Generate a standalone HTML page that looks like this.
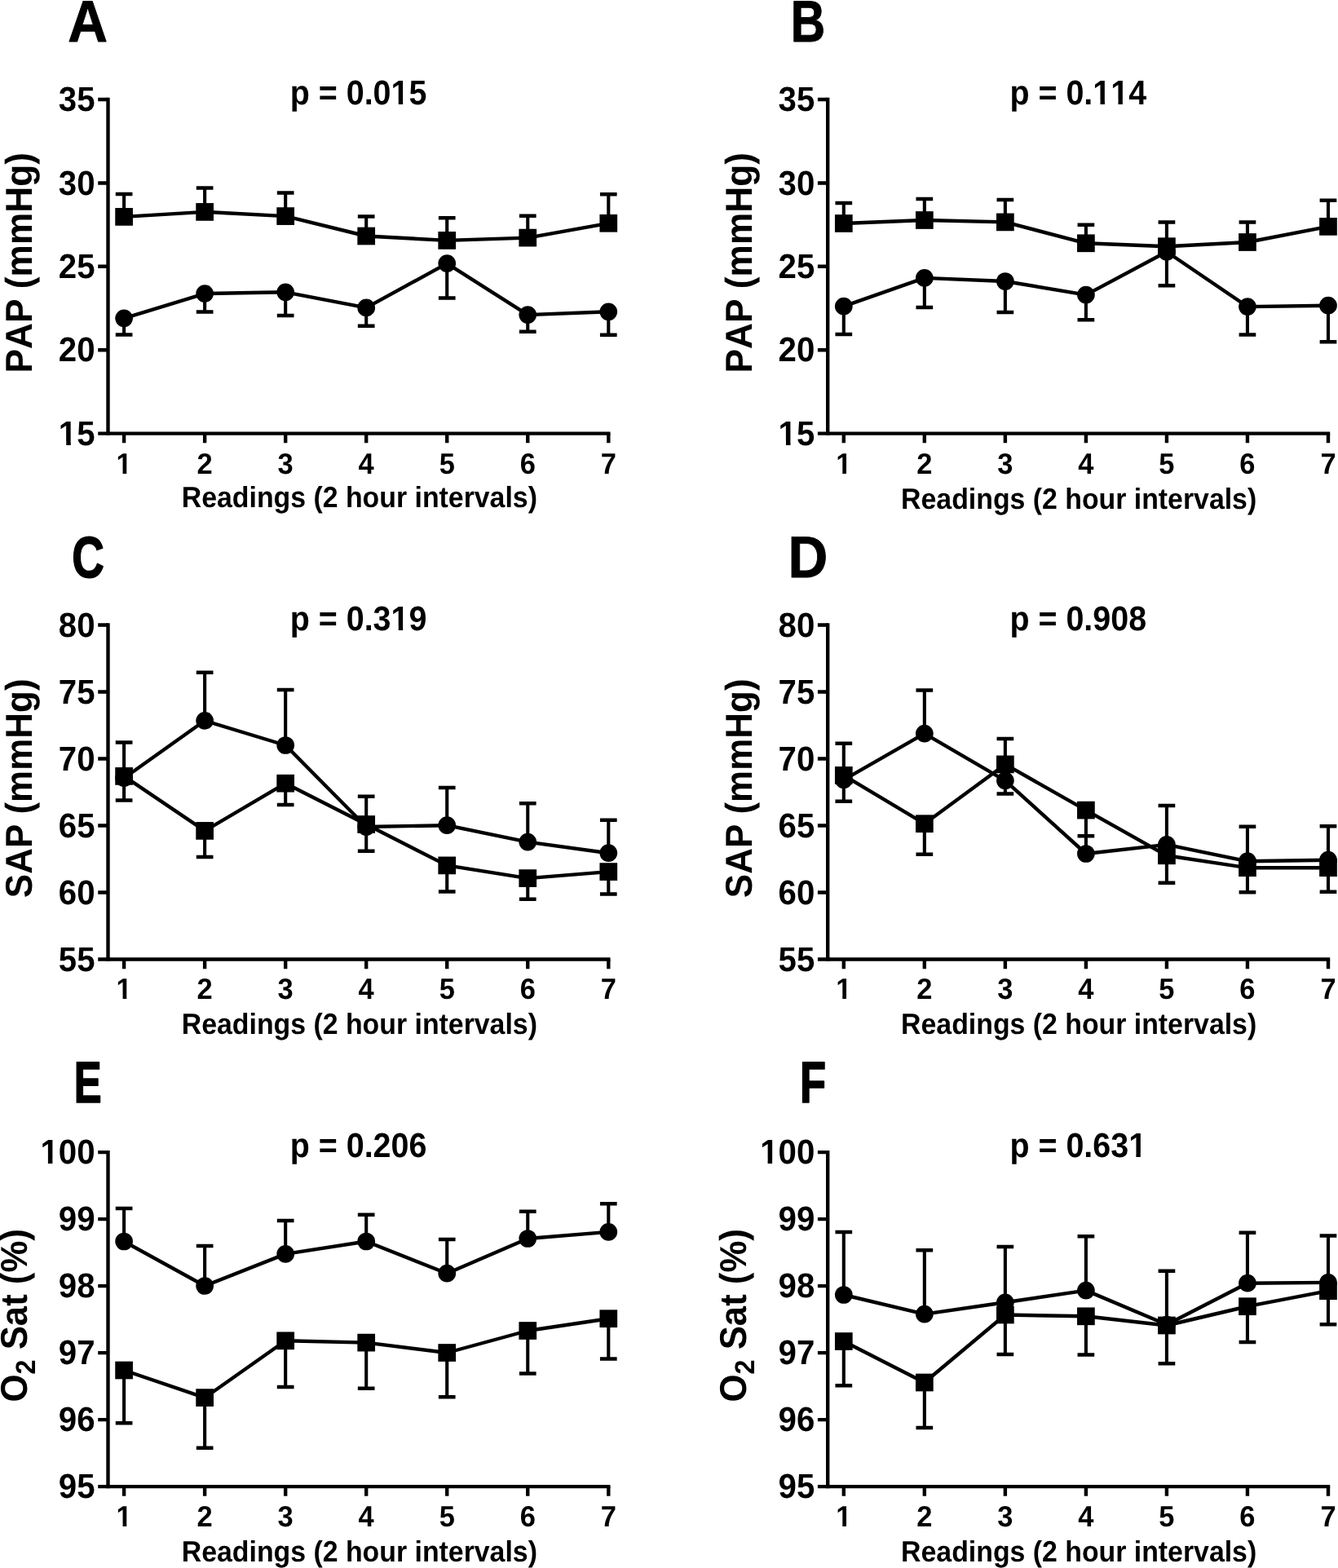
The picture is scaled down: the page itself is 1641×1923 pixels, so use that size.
<!DOCTYPE html>
<html lang="en"><head><meta charset="utf-8"><title>Figure</title>
<style>
html,body{margin:0;padding:0;background:#fff;}
body{width:1641px;height:1923px;overflow:hidden;}
svg{display:block;}
text{font-family:"Liberation Sans",Arial,Helvetica,sans-serif;font-weight:bold;fill:#000;font-kerning:none;text-rendering:geometricPrecision;}
.m{fill:#fff;}
.ax{stroke:#000;fill:none;stroke-linecap:butt;}
.ln{stroke:#000;fill:none;stroke-linejoin:round;}
</style></head><body>
<svg width="1641" height="1923" viewBox="0 0 1641 1923">
<rect width="1641" height="1923" fill="#fff"/>
<g id="panel-A">
<path class="ax" stroke-width="4.4" d="M132.5 119.85V533.8"/>
<path class="ax" stroke-width="4.4" d="M120.2 531.6H748.48"/>
<path class="ax" stroke-width="4.4" d="M120.2 122.05H132.5M120.2 224.44H132.5M120.2 326.82H132.5M120.2 429.21H132.5M152.1 531.6V543.3M251.13 531.6V543.3M350.16 531.6V543.3M449.19 531.6V543.3M548.22 531.6V543.3M647.25 531.6V543.3M746.28 531.6V543.3"/>
<g transform="translate(71.87 136) scale(0.9530 1)"><text font-size="42.2">35</text></g>
<g transform="translate(71.87 239) scale(0.9530 1)"><text font-size="42.2">30</text></g>
<g transform="translate(71.87 341) scale(0.9530 1)"><text font-size="42.2">25</text></g>
<g transform="translate(71.87 443) scale(0.9530 1)"><text font-size="42.2">20</text></g>
<g transform="translate(71.87 546) scale(0.9530 1)"><text font-size="42.2">15</text><rect class="m" x="-0.52" y="-5" width="10.36" height="6"/><rect class="m" x="15.64" y="-5" width="8.14" height="6"/></g>
<g transform="translate(142.52 581) scale(0.9600 1)"><text font-size="35.9">1</text><rect class="m" x="-0.44" y="-4" width="8.82" height="5"/><rect class="m" x="13.3" y="-4" width="6.92" height="5"/></g>
<g transform="translate(241.55 581) scale(0.9600 1)"><text font-size="35.9">2</text></g>
<g transform="translate(340.58 581) scale(0.9600 1)"><text font-size="35.9">3</text></g>
<g transform="translate(439.61 581) scale(0.9600 1)"><text font-size="35.9">4</text></g>
<g transform="translate(538.64 581) scale(0.9600 1)"><text font-size="35.9">5</text></g>
<g transform="translate(637.67 581) scale(0.9600 1)"><text font-size="35.9">6</text></g>
<g transform="translate(736.7 581) scale(0.9600 1)"><text font-size="35.9">7</text></g>
<g transform="translate(222.79 622) scale(0.9397 1)"><text font-size="36">Readings (2 hour intervals)</text></g>
<g transform="translate(38.9 457.46) rotate(-90) scale(0.9621 1)"><text font-size="46">PAP (mmHg)</text></g>
<g transform="translate(355.7 128) scale(0.9366 1)"><text font-size="42.1">p = 0.015</text><rect class="m" x="131.71" y="-5" width="10.34" height="6"/><rect class="m" x="147.82" y="-5" width="8.12" height="6"/></g>
<text class="pl" stroke="#000" stroke-width="0.9" stroke-linejoin="round" transform="translate(83.22 50.74) scale(0.9388 1)" font-size="71.92">A</text>
<path class="ax" stroke-width="4.1" d="M152.1 265.9V238.2M251.13 259.9V230.8M350.16 265.1V236.8M449.19 289.5V265.8M548.22 294.9V267.4M647.25 291.6V265M746.28 273.8V238.6M152.1 390.3V410.8M251.13 360.1V382.7M350.16 358.3V387.2M449.19 377.4V400.1M548.22 323.1V365.7M647.25 386.1V407.1M746.28 382.3V411"/>
<path class="ax" stroke-width="4.5" d="M141.75 237.95H162.45M240.78 230.55H261.48M339.81 236.55H360.51M438.84 265.55H459.54M537.87 267.15H558.57M636.9 264.75H657.6M735.93 238.35H756.63M141.75 410.55H162.45M240.78 382.45H261.48M339.81 386.95H360.51M438.84 399.85H459.54M537.87 365.45H558.57M636.9 406.85H657.6M735.93 410.75H756.63"/>
<polyline class="ln" stroke-width="4.4" points="152.1,265.9 251.13,259.9 350.16,265.1 449.19,289.5 548.22,294.9 647.25,291.6 746.28,273.8"/>
<polyline class="ln" stroke-width="4.4" points="152.1,390.3 251.13,360.1 350.16,358.3 449.19,377.4 548.22,323.1 647.25,386.1 746.28,382.3"/>
<circle cx="152.1" cy="390.3" r="10.85"/>
<circle cx="251.13" cy="360.1" r="10.85"/>
<circle cx="350.16" cy="358.3" r="10.85"/>
<circle cx="449.19" cy="377.4" r="10.85"/>
<circle cx="548.22" cy="323.1" r="10.85"/>
<circle cx="647.25" cy="386.1" r="10.85"/>
<circle cx="746.28" cy="382.3" r="10.85"/>
<rect x="141.25" y="255.05" width="21.7" height="21.7"/>
<rect x="240.28" y="249.05" width="21.7" height="21.7"/>
<rect x="339.31" y="254.25" width="21.7" height="21.7"/>
<rect x="438.34" y="278.65" width="21.7" height="21.7"/>
<rect x="537.37" y="284.05" width="21.7" height="21.7"/>
<rect x="636.4" y="280.75" width="21.7" height="21.7"/>
<rect x="735.43" y="262.95" width="21.7" height="21.7"/>
</g>
<g id="panel-B">
<path class="ax" stroke-width="4.4" d="M1015.2 119.85V533.8"/>
<path class="ax" stroke-width="4.4" d="M1002.9 531.6H1631.18"/>
<path class="ax" stroke-width="4.4" d="M1002.9 122.05H1015.2M1002.9 224.44H1015.2M1002.9 326.82H1015.2M1002.9 429.21H1015.2M1034.8 531.6V543.3M1133.83 531.6V543.3M1232.86 531.6V543.3M1331.89 531.6V543.3M1430.92 531.6V543.3M1529.95 531.6V543.3M1628.98 531.6V543.3"/>
<g transform="translate(954.57 136) scale(0.9530 1)"><text font-size="42.2">35</text></g>
<g transform="translate(954.57 239) scale(0.9530 1)"><text font-size="42.2">30</text></g>
<g transform="translate(954.57 341) scale(0.9530 1)"><text font-size="42.2">25</text></g>
<g transform="translate(954.57 443) scale(0.9530 1)"><text font-size="42.2">20</text></g>
<g transform="translate(954.57 546) scale(0.9530 1)"><text font-size="42.2">15</text><rect class="m" x="-0.52" y="-5" width="10.36" height="6"/><rect class="m" x="15.64" y="-5" width="8.14" height="6"/></g>
<g transform="translate(1025.22 581) scale(0.9600 1)"><text font-size="35.9">1</text><rect class="m" x="-0.44" y="-4" width="8.82" height="5"/><rect class="m" x="13.3" y="-4" width="6.92" height="5"/></g>
<g transform="translate(1124.25 581) scale(0.9600 1)"><text font-size="35.9">2</text></g>
<g transform="translate(1223.28 581) scale(0.9600 1)"><text font-size="35.9">3</text></g>
<g transform="translate(1322.31 581) scale(0.9600 1)"><text font-size="35.9">4</text></g>
<g transform="translate(1421.34 581) scale(0.9600 1)"><text font-size="35.9">5</text></g>
<g transform="translate(1520.37 581) scale(0.9600 1)"><text font-size="35.9">6</text></g>
<g transform="translate(1619.4 581) scale(0.9600 1)"><text font-size="35.9">7</text></g>
<g transform="translate(1105.09 624) scale(0.9397 1)"><text font-size="36">Readings (2 hour intervals)</text></g>
<g transform="translate(921.6 457.46) rotate(-90) scale(0.9621 1)"><text font-size="46">PAP (mmHg)</text></g>
<g transform="translate(1238.4 128) scale(0.9366 1)"><text font-size="42.1">p = 0.114</text><rect class="m" x="108.29" y="-5" width="10.34" height="6"/><rect class="m" x="124.41" y="-5" width="8.12" height="6"/><rect class="m" x="131.71" y="-5" width="10.34" height="6"/><rect class="m" x="147.82" y="-5" width="8.12" height="6"/></g>
<text class="pl" stroke="#000" stroke-width="0.9" stroke-linejoin="round" transform="translate(969.76 50.74) scale(0.8185 1)" font-size="71.92">B</text>
<path class="ax" stroke-width="4.1" d="M1034.8 274V249.2M1133.83 270V244.2M1232.86 272.4V245.3M1331.89 298.3V276.1M1430.92 302.2V272.8M1529.95 297V272.8M1628.98 277.9V245.9M1034.8 375.7V410.2M1133.83 340.9V377.3M1232.86 345V383.3M1331.89 361.6V392.6M1430.92 308.8V350.5M1529.95 376.1V410.8M1628.98 374.7V419.5"/>
<path class="ax" stroke-width="4.5" d="M1024.45 248.95H1045.15M1123.48 243.95H1144.18M1222.51 245.05H1243.21M1321.54 275.85H1342.24M1420.57 272.55H1441.27M1519.6 272.55H1540.3M1618.63 245.65H1639.33M1024.45 409.95H1045.15M1123.48 377.05H1144.18M1222.51 383.05H1243.21M1321.54 392.35H1342.24M1420.57 350.25H1441.27M1519.6 410.55H1540.3M1618.63 419.25H1639.33"/>
<polyline class="ln" stroke-width="4.4" points="1034.8,274 1133.83,270 1232.86,272.4 1331.89,298.3 1430.92,302.2 1529.95,297 1628.98,277.9"/>
<polyline class="ln" stroke-width="4.4" points="1034.8,375.7 1133.83,340.9 1232.86,345 1331.89,361.6 1430.92,308.8 1529.95,376.1 1628.98,374.7"/>
<circle cx="1034.8" cy="375.7" r="10.85"/>
<circle cx="1133.83" cy="340.9" r="10.85"/>
<circle cx="1232.86" cy="345" r="10.85"/>
<circle cx="1331.89" cy="361.6" r="10.85"/>
<circle cx="1430.92" cy="308.8" r="10.85"/>
<circle cx="1529.95" cy="376.1" r="10.85"/>
<circle cx="1628.98" cy="374.7" r="10.85"/>
<rect x="1023.95" y="263.15" width="21.7" height="21.7"/>
<rect x="1122.98" y="259.15" width="21.7" height="21.7"/>
<rect x="1222.01" y="261.55" width="21.7" height="21.7"/>
<rect x="1321.04" y="287.45" width="21.7" height="21.7"/>
<rect x="1420.07" y="291.35" width="21.7" height="21.7"/>
<rect x="1519.1" y="286.15" width="21.7" height="21.7"/>
<rect x="1618.13" y="267.05" width="21.7" height="21.7"/>
</g>
<g id="panel-C">
<path class="ax" stroke-width="4.4" d="M132.5 764.25V1178.65"/>
<path class="ax" stroke-width="4.4" d="M120.2 1176.45H748.48"/>
<path class="ax" stroke-width="4.4" d="M120.2 766.45H132.5M120.2 848.45H132.5M120.2 930.45H132.5M120.2 1012.45H132.5M120.2 1094.45H132.5M152.1 1176.45V1188.15M251.13 1176.45V1188.15M350.16 1176.45V1188.15M449.19 1176.45V1188.15M548.22 1176.45V1188.15M647.25 1176.45V1188.15M746.28 1176.45V1188.15"/>
<g transform="translate(71.87 781) scale(0.9530 1)"><text font-size="42.2">80</text></g>
<g transform="translate(71.87 863) scale(0.9530 1)"><text font-size="42.2">75</text></g>
<g transform="translate(71.87 945) scale(0.9530 1)"><text font-size="42.2">70</text></g>
<g transform="translate(71.87 1027) scale(0.9530 1)"><text font-size="42.2">65</text></g>
<g transform="translate(71.87 1109) scale(0.9530 1)"><text font-size="42.2">60</text></g>
<g transform="translate(71.87 1191) scale(0.9530 1)"><text font-size="42.2">55</text></g>
<g transform="translate(142.52 1225) scale(0.9600 1)"><text font-size="35.9">1</text><rect class="m" x="-0.44" y="-4" width="8.82" height="5"/><rect class="m" x="13.3" y="-4" width="6.92" height="5"/></g>
<g transform="translate(241.55 1225) scale(0.9600 1)"><text font-size="35.9">2</text></g>
<g transform="translate(340.58 1225) scale(0.9600 1)"><text font-size="35.9">3</text></g>
<g transform="translate(439.61 1225) scale(0.9600 1)"><text font-size="35.9">4</text></g>
<g transform="translate(538.64 1225) scale(0.9600 1)"><text font-size="35.9">5</text></g>
<g transform="translate(637.67 1225) scale(0.9600 1)"><text font-size="35.9">6</text></g>
<g transform="translate(736.7 1225) scale(0.9600 1)"><text font-size="35.9">7</text></g>
<g transform="translate(222.79 1268) scale(0.9397 1)"><text font-size="36">Readings (2 hour intervals)</text></g>
<g transform="translate(38.9 1101.17) rotate(-90) scale(0.9560 1)"><text font-size="46">SAP (mmHg)</text></g>
<g transform="translate(355.7 773) scale(0.9366 1)"><text font-size="42.1">p = 0.319</text><rect class="m" x="131.71" y="-5" width="10.34" height="6"/><rect class="m" x="147.82" y="-5" width="8.12" height="6"/></g>
<text class="pl" stroke="#000" stroke-width="1.6" stroke-linejoin="round" transform="translate(88.3 707.8) scale(0.7695 1)" font-size="71.16">C</text>
<path class="ax" stroke-width="4.1" d="M152.1 951.9V981.7M251.13 1018.9V1051.3M350.16 960.7V987.3M449.19 1011V1044M548.22 1061.4V1093.8M647.25 1077.1V1103.1M746.28 1069.1V1096.7M152.1 954.2V910.8M251.13 883.8V825M350.16 914V846.2M449.19 1014V976.9M548.22 1012.2V966.3M647.25 1032.6V985.4M746.28 1046.2V1005.9"/>
<path class="ax" stroke-width="4.5" d="M141.75 981.45H162.45M240.78 1051.05H261.48M339.81 987.05H360.51M438.84 1043.75H459.54M537.87 1093.55H558.57M636.9 1102.85H657.6M735.93 1096.45H756.63M141.75 910.55H162.45M240.78 824.75H261.48M339.81 845.95H360.51M438.84 976.65H459.54M537.87 966.05H558.57M636.9 985.15H657.6M735.93 1005.65H756.63"/>
<polyline class="ln" stroke-width="4.4" points="152.1,951.9 251.13,1018.9 350.16,960.7 449.19,1011 548.22,1061.4 647.25,1077.1 746.28,1069.1"/>
<polyline class="ln" stroke-width="4.4" points="152.1,954.2 251.13,883.8 350.16,914 449.19,1014 548.22,1012.2 647.25,1032.6 746.28,1046.2"/>
<circle cx="152.1" cy="954.2" r="10.85"/>
<circle cx="251.13" cy="883.8" r="10.85"/>
<circle cx="350.16" cy="914" r="10.85"/>
<circle cx="449.19" cy="1014" r="10.85"/>
<circle cx="548.22" cy="1012.2" r="10.85"/>
<circle cx="647.25" cy="1032.6" r="10.85"/>
<circle cx="746.28" cy="1046.2" r="10.85"/>
<rect x="141.25" y="941.05" width="21.7" height="21.7"/>
<rect x="240.28" y="1008.05" width="21.7" height="21.7"/>
<rect x="339.31" y="949.85" width="21.7" height="21.7"/>
<rect x="438.34" y="1000.15" width="21.7" height="21.7"/>
<rect x="537.37" y="1050.55" width="21.7" height="21.7"/>
<rect x="636.4" y="1066.25" width="21.7" height="21.7"/>
<rect x="735.43" y="1058.25" width="21.7" height="21.7"/>
</g>
<g id="panel-D">
<path class="ax" stroke-width="4.4" d="M1015.2 764.25V1178.65"/>
<path class="ax" stroke-width="4.4" d="M1002.9 1176.45H1631.18"/>
<path class="ax" stroke-width="4.4" d="M1002.9 766.45H1015.2M1002.9 848.45H1015.2M1002.9 930.45H1015.2M1002.9 1012.45H1015.2M1002.9 1094.45H1015.2M1034.8 1176.45V1188.15M1133.83 1176.45V1188.15M1232.86 1176.45V1188.15M1331.89 1176.45V1188.15M1430.92 1176.45V1188.15M1529.95 1176.45V1188.15M1628.98 1176.45V1188.15"/>
<g transform="translate(954.57 781) scale(0.9530 1)"><text font-size="42.2">80</text></g>
<g transform="translate(954.57 863) scale(0.9530 1)"><text font-size="42.2">75</text></g>
<g transform="translate(954.57 945) scale(0.9530 1)"><text font-size="42.2">70</text></g>
<g transform="translate(954.57 1027) scale(0.9530 1)"><text font-size="42.2">65</text></g>
<g transform="translate(954.57 1109) scale(0.9530 1)"><text font-size="42.2">60</text></g>
<g transform="translate(954.57 1191) scale(0.9530 1)"><text font-size="42.2">55</text></g>
<g transform="translate(1025.22 1225) scale(0.9600 1)"><text font-size="35.9">1</text><rect class="m" x="-0.44" y="-4" width="8.82" height="5"/><rect class="m" x="13.3" y="-4" width="6.92" height="5"/></g>
<g transform="translate(1124.25 1225) scale(0.9600 1)"><text font-size="35.9">2</text></g>
<g transform="translate(1223.28 1225) scale(0.9600 1)"><text font-size="35.9">3</text></g>
<g transform="translate(1322.31 1225) scale(0.9600 1)"><text font-size="35.9">4</text></g>
<g transform="translate(1421.34 1225) scale(0.9600 1)"><text font-size="35.9">5</text></g>
<g transform="translate(1520.37 1225) scale(0.9600 1)"><text font-size="35.9">6</text></g>
<g transform="translate(1619.4 1225) scale(0.9600 1)"><text font-size="35.9">7</text></g>
<g transform="translate(1105.09 1268) scale(0.9397 1)"><text font-size="36">Readings (2 hour intervals)</text></g>
<g transform="translate(921.6 1101.17) rotate(-90) scale(0.9560 1)"><text font-size="46">SAP (mmHg)</text></g>
<g transform="translate(1238.4 773) scale(0.9366 1)"><text font-size="42.1">p = 0.908</text></g>
<text class="pl" stroke="#000" stroke-width="0.9" stroke-linejoin="round" transform="translate(966.38 708.24) scale(0.9348 1)" font-size="72.21">D</text>
<path class="ax" stroke-width="4.1" d="M1034.8 950.9V982.9M1133.83 1010.2V1048M1232.86 937.4V906.2M1331.89 993.6V1025.4M1430.92 1049.3V1083M1529.95 1064.2V1094.6M1628.98 1064.2V1094M1034.8 956.3V912.1M1133.83 899.7V846.8M1232.86 957.3V973.8M1331.89 1047V1025.4M1430.92 1035.9V988.3M1529.95 1056.2V1014M1628.98 1054.7V1013.4"/>
<path class="ax" stroke-width="4.5" d="M1024.45 982.65H1045.15M1123.48 1047.75H1144.18M1222.51 905.95H1243.21M1321.54 1025.15H1342.24M1420.57 1082.75H1441.27M1519.6 1094.35H1540.3M1618.63 1093.75H1639.33M1024.45 911.85H1045.15M1123.48 846.55H1144.18M1222.51 973.55H1243.21M1321.54 1025.15H1342.24M1420.57 988.05H1441.27M1519.6 1013.75H1540.3M1618.63 1013.15H1639.33"/>
<polyline class="ln" stroke-width="4.4" points="1034.8,950.9 1133.83,1010.2 1232.86,937.4 1331.89,993.6 1430.92,1049.3 1529.95,1064.2 1628.98,1064.2"/>
<polyline class="ln" stroke-width="4.4" points="1034.8,956.3 1133.83,899.7 1232.86,957.3 1331.89,1047 1430.92,1035.9 1529.95,1056.2 1628.98,1054.7"/>
<circle cx="1034.8" cy="956.3" r="10.85"/>
<circle cx="1133.83" cy="899.7" r="10.85"/>
<circle cx="1232.86" cy="957.3" r="10.85"/>
<circle cx="1331.89" cy="1047" r="10.85"/>
<circle cx="1430.92" cy="1035.9" r="10.85"/>
<circle cx="1529.95" cy="1056.2" r="10.85"/>
<circle cx="1628.98" cy="1054.7" r="10.85"/>
<rect x="1023.95" y="940.05" width="21.7" height="21.7"/>
<rect x="1122.98" y="999.35" width="21.7" height="21.7"/>
<rect x="1222.01" y="926.55" width="21.7" height="21.7"/>
<rect x="1321.04" y="982.75" width="21.7" height="21.7"/>
<rect x="1420.07" y="1038.45" width="21.7" height="21.7"/>
<rect x="1519.1" y="1053.35" width="21.7" height="21.7"/>
<rect x="1618.13" y="1053.35" width="21.7" height="21.7"/>
</g>
<g id="panel-E">
<path class="ax" stroke-width="4.4" d="M132.5 1410.95V1825.3"/>
<path class="ax" stroke-width="4.4" d="M120.2 1823.1H748.48"/>
<path class="ax" stroke-width="4.4" d="M120.2 1413.15H132.5M120.2 1495.14H132.5M120.2 1577.13H132.5M120.2 1659.12H132.5M120.2 1741.11H132.5M152.1 1823.1V1834.8M251.13 1823.1V1834.8M350.16 1823.1V1834.8M449.19 1823.1V1834.8M548.22 1823.1V1834.8M647.25 1823.1V1834.8M746.28 1823.1V1834.8"/>
<g transform="translate(49.5 1427) scale(0.9530 1)"><text font-size="42.2">100</text><rect class="m" x="-0.52" y="-5" width="10.36" height="6"/><rect class="m" x="15.64" y="-5" width="8.14" height="6"/></g>
<g transform="translate(71.87 1509) scale(0.9530 1)"><text font-size="42.2">99</text></g>
<g transform="translate(71.87 1591) scale(0.9530 1)"><text font-size="42.2">98</text></g>
<g transform="translate(71.87 1673) scale(0.9530 1)"><text font-size="42.2">97</text></g>
<g transform="translate(71.87 1755) scale(0.9530 1)"><text font-size="42.2">96</text></g>
<g transform="translate(71.87 1837) scale(0.9530 1)"><text font-size="42.2">95</text></g>
<g transform="translate(142.52 1872) scale(0.9600 1)"><text font-size="35.9">1</text><rect class="m" x="-0.44" y="-4" width="8.82" height="5"/><rect class="m" x="13.3" y="-4" width="6.92" height="5"/></g>
<g transform="translate(241.55 1872) scale(0.9600 1)"><text font-size="35.9">2</text></g>
<g transform="translate(340.58 1872) scale(0.9600 1)"><text font-size="35.9">3</text></g>
<g transform="translate(439.61 1872) scale(0.9600 1)"><text font-size="35.9">4</text></g>
<g transform="translate(538.64 1872) scale(0.9600 1)"><text font-size="35.9">5</text></g>
<g transform="translate(637.67 1872) scale(0.9600 1)"><text font-size="35.9">6</text></g>
<g transform="translate(736.7 1872) scale(0.9600 1)"><text font-size="35.9">7</text></g>
<g transform="translate(222.79 1915) scale(0.9397 1)"><text font-size="36">Readings (2 hour intervals)</text></g>
<g transform="translate(33.3 1719.39) rotate(-90) scale(0.9498 1)"><text font-size="46">O<tspan font-size="34" dy="10">2</tspan><tspan dy="-10"> Sat (%)</tspan></text></g>
<g transform="translate(355.7 1419) scale(0.9366 1)"><text font-size="42.1">p = 0.206</text></g>
<text class="pl" stroke="#000" stroke-width="1.7" stroke-linejoin="round" transform="translate(90.8 1351.74) scale(0.7121 1)" font-size="71.34">E</text>
<path class="ax" stroke-width="4.1" d="M152.1 1680.5V1745.4M251.13 1714.1V1775.9M350.16 1644.3V1701.2M449.19 1646.6V1703.1M548.22 1659V1713.5M647.25 1632V1684.7M746.28 1617.2V1666.8M152.1 1522.5V1482.2M251.13 1577V1528.2M350.16 1537.9V1497.3M449.19 1522.5V1489.9M548.22 1561.7V1520.2M647.25 1519V1486M746.28 1510.9V1476.4"/>
<path class="ax" stroke-width="4.5" d="M141.75 1745.15H162.45M240.78 1775.65H261.48M339.81 1700.95H360.51M438.84 1702.85H459.54M537.87 1713.25H558.57M636.9 1684.45H657.6M735.93 1666.55H756.63M141.75 1481.95H162.45M240.78 1527.95H261.48M339.81 1497.05H360.51M438.84 1489.65H459.54M537.87 1519.95H558.57M636.9 1485.75H657.6M735.93 1476.15H756.63"/>
<polyline class="ln" stroke-width="4.4" points="152.1,1680.5 251.13,1714.1 350.16,1644.3 449.19,1646.6 548.22,1659 647.25,1632 746.28,1617.2"/>
<polyline class="ln" stroke-width="4.4" points="152.1,1522.5 251.13,1577 350.16,1537.9 449.19,1522.5 548.22,1561.7 647.25,1519 746.28,1510.9"/>
<circle cx="152.1" cy="1522.5" r="10.85"/>
<circle cx="251.13" cy="1577" r="10.85"/>
<circle cx="350.16" cy="1537.9" r="10.85"/>
<circle cx="449.19" cy="1522.5" r="10.85"/>
<circle cx="548.22" cy="1561.7" r="10.85"/>
<circle cx="647.25" cy="1519" r="10.85"/>
<circle cx="746.28" cy="1510.9" r="10.85"/>
<rect x="141.25" y="1669.65" width="21.7" height="21.7"/>
<rect x="240.28" y="1703.25" width="21.7" height="21.7"/>
<rect x="339.31" y="1633.45" width="21.7" height="21.7"/>
<rect x="438.34" y="1635.75" width="21.7" height="21.7"/>
<rect x="537.37" y="1648.15" width="21.7" height="21.7"/>
<rect x="636.4" y="1621.15" width="21.7" height="21.7"/>
<rect x="735.43" y="1606.35" width="21.7" height="21.7"/>
</g>
<g id="panel-F">
<path class="ax" stroke-width="4.4" d="M1015.2 1410.95V1825.3"/>
<path class="ax" stroke-width="4.4" d="M1002.9 1823.1H1631.18"/>
<path class="ax" stroke-width="4.4" d="M1002.9 1413.15H1015.2M1002.9 1495.14H1015.2M1002.9 1577.13H1015.2M1002.9 1659.12H1015.2M1002.9 1741.11H1015.2M1034.8 1823.1V1834.8M1133.83 1823.1V1834.8M1232.86 1823.1V1834.8M1331.89 1823.1V1834.8M1430.92 1823.1V1834.8M1529.95 1823.1V1834.8M1628.98 1823.1V1834.8"/>
<g transform="translate(932.2 1427) scale(0.9530 1)"><text font-size="42.2">100</text><rect class="m" x="-0.52" y="-5" width="10.36" height="6"/><rect class="m" x="15.64" y="-5" width="8.14" height="6"/></g>
<g transform="translate(954.57 1509) scale(0.9530 1)"><text font-size="42.2">99</text></g>
<g transform="translate(954.57 1591) scale(0.9530 1)"><text font-size="42.2">98</text></g>
<g transform="translate(954.57 1673) scale(0.9530 1)"><text font-size="42.2">97</text></g>
<g transform="translate(954.57 1755) scale(0.9530 1)"><text font-size="42.2">96</text></g>
<g transform="translate(954.57 1837) scale(0.9530 1)"><text font-size="42.2">95</text></g>
<g transform="translate(1025.22 1872) scale(0.9600 1)"><text font-size="35.9">1</text><rect class="m" x="-0.44" y="-4" width="8.82" height="5"/><rect class="m" x="13.3" y="-4" width="6.92" height="5"/></g>
<g transform="translate(1124.25 1872) scale(0.9600 1)"><text font-size="35.9">2</text></g>
<g transform="translate(1223.28 1872) scale(0.9600 1)"><text font-size="35.9">3</text></g>
<g transform="translate(1322.31 1872) scale(0.9600 1)"><text font-size="35.9">4</text></g>
<g transform="translate(1421.34 1872) scale(0.9600 1)"><text font-size="35.9">5</text></g>
<g transform="translate(1520.37 1872) scale(0.9600 1)"><text font-size="35.9">6</text></g>
<g transform="translate(1619.4 1872) scale(0.9600 1)"><text font-size="35.9">7</text></g>
<g transform="translate(1105.09 1915) scale(0.9397 1)"><text font-size="36">Readings (2 hour intervals)</text></g>
<g transform="translate(915.1 1719.39) rotate(-90) scale(0.9498 1)"><text font-size="46">O<tspan font-size="34" dy="10">2</tspan><tspan dy="-10"> Sat (%)</tspan></text></g>
<g transform="translate(1238.4 1419) scale(0.9366 1)"><text font-size="42.1">p = 0.631</text><rect class="m" x="155.12" y="-5" width="10.34" height="6"/><rect class="m" x="171.24" y="-5" width="8.12" height="6"/></g>
<text class="pl" stroke="#000" stroke-width="1.7" stroke-linejoin="round" transform="translate(981.09 1351.74) scale(0.7350 1)" font-size="71.34">F</text>
<path class="ax" stroke-width="4.1" d="M1034.8 1645V1699.6M1133.83 1695.5V1751.2M1232.86 1612.5V1661.3M1331.89 1614.3V1661.7M1430.92 1625.5V1672.4M1529.95 1602.2V1646.3M1628.98 1583.2V1624.4M1034.8 1588V1511.2M1133.83 1611.6V1533.5M1232.86 1597.3V1529.3M1331.89 1582.6V1516.6M1430.92 1624.5V1558.9M1529.95 1573.7V1511.9M1628.98 1572.9V1515.8"/>
<path class="ax" stroke-width="4.5" d="M1024.45 1699.35H1045.15M1123.48 1750.95H1144.18M1222.51 1661.05H1243.21M1321.54 1661.45H1342.24M1420.57 1672.15H1441.27M1519.6 1646.05H1540.3M1618.63 1624.15H1639.33M1024.45 1510.95H1045.15M1123.48 1533.25H1144.18M1222.51 1529.05H1243.21M1321.54 1516.35H1342.24M1420.57 1558.65H1441.27M1519.6 1511.65H1540.3M1618.63 1515.55H1639.33"/>
<polyline class="ln" stroke-width="4.4" points="1034.8,1645 1133.83,1695.5 1232.86,1612.5 1331.89,1614.3 1430.92,1625.5 1529.95,1602.2 1628.98,1583.2"/>
<polyline class="ln" stroke-width="4.4" points="1034.8,1588 1133.83,1611.6 1232.86,1597.3 1331.89,1582.6 1430.92,1624.5 1529.95,1573.7 1628.98,1572.9"/>
<circle cx="1034.8" cy="1588" r="10.85"/>
<circle cx="1133.83" cy="1611.6" r="10.85"/>
<circle cx="1232.86" cy="1597.3" r="10.85"/>
<circle cx="1331.89" cy="1582.6" r="10.85"/>
<circle cx="1430.92" cy="1624.5" r="10.85"/>
<circle cx="1529.95" cy="1573.7" r="10.85"/>
<circle cx="1628.98" cy="1572.9" r="10.85"/>
<rect x="1023.95" y="1634.15" width="21.7" height="21.7"/>
<rect x="1122.98" y="1684.65" width="21.7" height="21.7"/>
<rect x="1222.01" y="1601.65" width="21.7" height="21.7"/>
<rect x="1321.04" y="1603.45" width="21.7" height="21.7"/>
<rect x="1420.07" y="1614.65" width="21.7" height="21.7"/>
<rect x="1519.1" y="1591.35" width="21.7" height="21.7"/>
<rect x="1618.13" y="1572.35" width="21.7" height="21.7"/>
</g>
</svg>
</body></html>
